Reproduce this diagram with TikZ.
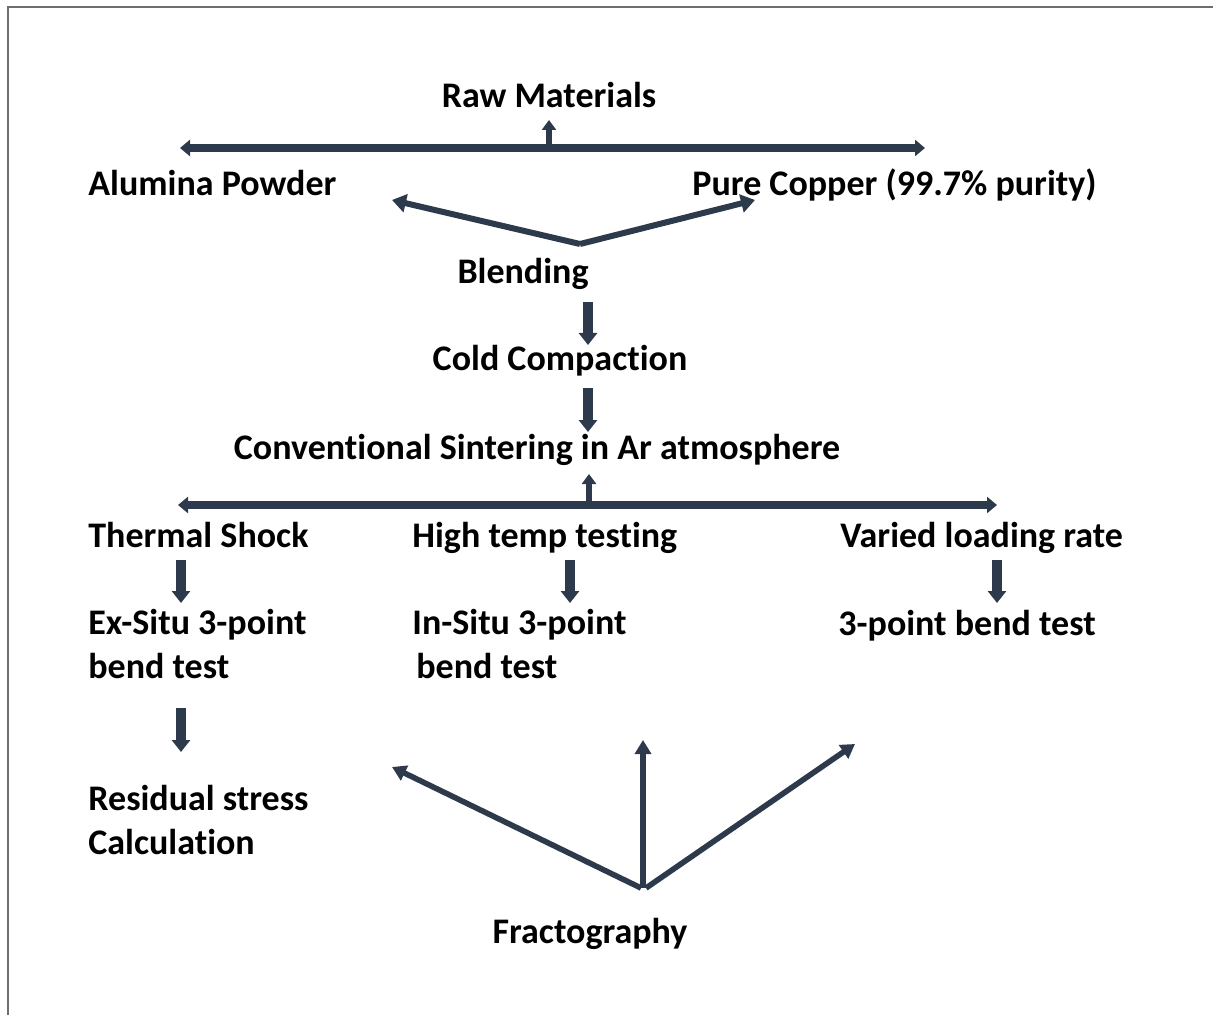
\documentclass[tikz,border=0pt]{standalone}
\usepackage{fontspec}
\setmainfont[Ligatures={NoCommon,NoRequired,NoContextual,NoRare},RawFeature={-liga;-clig;-dlig}]{Carlito}
\usetikzlibrary{arrows.meta,positioning}
\definecolor{flowink}{RGB}{45,58,76}
\definecolor{frameink}{RGB}{110,110,110}
\begin{document}
\begin{tikzpicture}[x=0.5pt,y=-0.5pt,
    lbl/.style={font=\fontsize{18}{22}\selectfont\bfseries,inner sep=0pt,align=left},
    bar/.style={draw=flowink,line width=4pt,{Triangle[length=5pt,width=8pt]}-{Triangle[length=5pt,width=8pt]}},
    stem/.style={draw=flowink,line width=3pt,-{Triangle[length=5pt,width=7pt]}},
    fat/.style={draw=flowink,line width=5pt,-{Triangle[length=6pt,width=9pt]}},
    ray/.style={draw=flowink,line width=3pt,-{Triangle[length=7pt,width=9pt]}},
    spoke/.style={draw=flowink,line width=2.8pt,-{Triangle[length=7pt,width=8pt]}}]
    \useasboundingbox (0,0) rectangle (1213,1015);
    \draw[frameink,line width=1pt] (8,1015) -- (8,7) -- (1213,7);
    % texts
    \node[lbl,anchor=base] (raw) at (549,108) {Raw Materials};
    \node[lbl,anchor=base west] (alumina) at (88,196) {Alumina Powder};
    \node[lbl,anchor=base west] (copper) at (692,196) {Pure Copper (99.7\% purity)};
    \node[lbl,anchor=base] (blend) at (523,284) {Blending};
    \node[lbl,anchor=base] (cold) at (560,371) {Cold Compaction};
    \node[lbl,anchor=base] (sinter) at (537,459) {Conventional Sintering in Ar atmosphere};
    \node[lbl,anchor=base west] (shock) at (88,547) {Thermal Shock};
    \node[lbl,anchor=base west] (hightemp) at (412,547) {High temp testing};
    \node[lbl,anchor=base west] (loading) at (840,547) {Varied loading rate};
    \node[lbl,anchor=west] (exsitu) at (88,644) {Ex-Situ 3-point\\bend test};
    \node[lbl,anchor=west] (insitu) at (412,644) {In-Situ 3-point\\\hspace{2pt}bend test};
    \node[lbl,anchor=base west] (bend) at (838,635) {3-point bend test};
    \node[lbl,anchor=west] (residual) at (88,820) {Residual stress\\Calculation};
    \node[lbl,anchor=base] (fracto) at (590,943) {Fractography};
    % hubs and free ends
    \coordinate (rawL) at (180,148);
    \coordinate (rawR) at (925,148);
    \coordinate (rawhub) at (549,148);
    \coordinate (rawtip) at (549,120);
    \coordinate (blendhub) at (580,244);
    \coordinate (alutip) at (392,200);
    \coordinate (cutip) at (755,200);
    \coordinate (sinterL) at (178,505);
    \coordinate (sinterR) at (997,505);
    \coordinate (sinterhub) at (589,505);
    \coordinate (sintertip) at (589,474);
    \coordinate (fractohub) at (643,888);
    \coordinate (fracL) at (392,767);
    \coordinate (fracM) at (643,740);
    \coordinate (fracR) at (855,744);
    \foreach \name/\x/\ya/\yb in {bc/588/302/345, cs/588/388/432, ts/181/560/603,
        ht/570/560/603, vl/997/560/603, ex/181/708/752}
    {
        \coordinate (\name a) at (\x,\ya);
        \coordinate (\name b) at (\x,\yb);
    }
    % connectors
    \draw[bar] (rawL) -- (rawR);
    \draw[stem] (rawhub) -- (rawtip);
    \draw[ray] (blendhub) -- (alutip);
    \draw[ray] (blendhub) -- (cutip);
    \draw[bar] (sinterL) -- (sinterR);
    \draw[stem] (sinterhub) -- (sintertip);
    \foreach \name in {bc,cs,ts,ht,vl,ex}
        \draw[fat] (\name a) -- (\name b);
    \draw[spoke] ([xshift=-1pt]fractohub) -- (fracL);
    \draw[spoke] (fractohub) -- (fracM);
    \draw[spoke] ([xshift=1.5pt]fractohub) -- (fracR);
\end{tikzpicture}
\end{document}
